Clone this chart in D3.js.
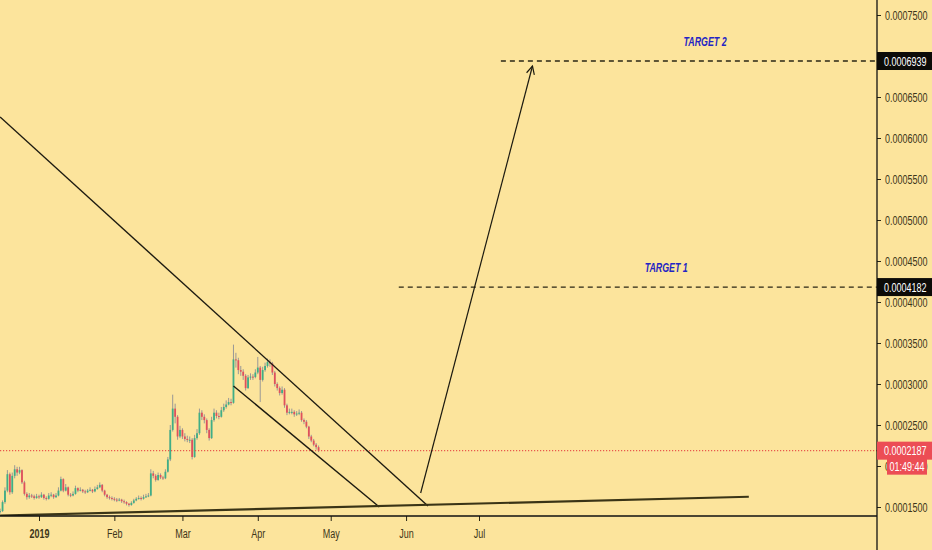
<!DOCTYPE html>
<html>
<head>
  <meta charset="utf-8">
  <title>chart</title>
  <script src="https://d3js.org/d3.v7.min.js"></script>
  <style>
    body { margin: 0; background: #fce49c; }
    svg text { font-family: "Liberation Sans", sans-serif; }
  </style>
</head>
<body>
<div id="chart"></div>
<script>
// prices in 1e-7 units, one candle per day starting 2018-12-16
var startDay = "2018-12-16";
var firstOpen = 1440;
var closes = [1450,1560,1700,1900,1680,1880,1960,1920,1950,1800,
  1660,1620,1640,1630,1610,1630,1620,1650,1610,1600,
  1640,1650,1620,1640,1700,1840,1700,1740,1650,1640,
  1660,1730,1700,1710,1690,1680,1700,1710,1690,1720,
  1740,1770,1700,1650,1620,1610,1600,1590,1580,1590,
  1570,1560,1540,1525,1550,1580,1600,1610,1600,1620,
  1630,1640,1910,1880,1830,1890,1860,1850,1930,2080,
  2440,2700,2600,2360,2440,2360,2330,2320,2320,2110,
  2340,2400,2650,2600,2560,2440,2340,2560,2650,2610,
  2600,2680,2720,2750,2780,2770,3300,3290,3170,3150,
  3100,2950,3080,3090,3085,3140,3200,3050,3170,3220,
  3270,3250,3140,3000,2950,2890,2930,2740,2650,2660,
  2660,2630,2640,2650,2560,2540,2480,2360,2310,2260,
  2230,2187];
var highs = [1480,1580,1740,1950,1920,1920,2010,1990,1990,1960,
  1820,1680,1670,1660,1650,1660,1650,1680,1660,1630,
  1670,1680,1660,1670,1740,1870,1850,1780,1750,1670,
  1690,1760,1740,1740,1720,1710,1720,1740,1720,1750,
  1770,1800,1780,1710,1660,1640,1630,1620,1610,1610,
  1600,1590,1570,1550,1570,1600,1620,1640,1630,1650,
  1660,1670,1960,1940,1900,1920,1910,1880,1960,2110,
  2500,2870,2760,2620,2490,2460,2400,2370,2360,2340,
  2380,2450,2700,2680,2630,2580,2460,2600,2700,2680,
  2650,2720,2760,2800,2830,2820,3480,3380,3320,3220,
  3180,3120,3110,3130,3120,3180,3330,3220,3210,3260,
  3310,3300,3270,3160,3020,2970,2970,2950,2760,2700,
  2700,2680,2670,2690,2670,2580,2560,2490,2380,2330,
  2280,2250];
var lows = [1420,1440,1540,1680,1650,1660,1850,1880,1900,1780,
  1640,1590,1600,1610,1590,1600,1600,1610,1590,1580,
  1590,1620,1600,1610,1630,1690,1680,1690,1630,1620,
  1630,1650,1680,1690,1670,1660,1670,1690,1670,1680,
  1710,1730,1680,1630,1600,1590,1580,1570,1560,1570,
  1550,1540,1520,1505,1515,1540,1570,1590,1580,1590,
  1610,1620,1630,1850,1810,1820,1840,1830,1840,1920,
  2060,2420,2520,2320,2340,2330,2300,2290,2280,2080,
  2100,2320,2380,2560,2520,2400,2310,2330,2540,2580,
  2570,2590,2660,2700,2740,2740,2760,3200,3120,3100,
  3050,2920,2940,3050,3050,3070,3120,2780,3030,3150,
  3200,3210,3110,2970,2920,2860,2870,2710,2620,2630,
  2630,2600,2610,2620,2540,2510,2460,2330,2290,2240,
  2200,2170];

var monthTicks = ["2019-01-01","2019-02-01","2019-03-01","2019-04-01","2019-05-01","2019-06-01","2019-07-01"];
var priceTicks = [0.00015,0.0002,0.00025,0.0003,0.00035,0.0004,0.00045,0.0005,0.00055,0.0006,0.00065,0.0007,0.00075];

var lastPrice = 0.0002187;
var countdown = "01:49:44";
var target1 = {label: "TARGET 1", price: 0.0004182, from: "2019-05-29", textAt: "2019-09-16"};
var target2 = {label: "TARGET 2", price: 0.0006939, from: "2019-07-10", textAt: "2019-10-02"};

// drawings: [date, price]
var resistanceLine = [["2018-12-16",0.0006256],["2019-06-10",0.0001512]];
var channelLine    = [["2019-03-22",0.0002976],["2019-05-21",0.0001500]];
var supportLine    = [["2018-12-16",0.0001396],["2019-10-20",0.0001625]];
var projectionArrow = [["2019-06-07",0.0001671],["2019-07-23",0.0006878]];

var W = 932, H = 550, axisX = 877, axisY = 516;
var parse = d3.timeParse("%Y-%m-%d");

var x = d3.scaleTime()
  .domain([parse("2019-01-01"), parse("2019-07-01")])
  .range([39, 479]);
var y = d3.scaleLinear()
  .domain([0.00015, 0.00075])
  .range([507, 15]);

var svg = d3.select("#chart").append("svg")
  .attr("width", W).attr("height", H)
  .style("display", "block");

svg.append("rect").attr("width", W).attr("height", H).attr("fill", "#fce49c");

svg.append("defs").append("marker")
  .attr("id", "arrow")
  .attr("markerUnits", "userSpaceOnUse")
  .attr("markerWidth", 12).attr("markerHeight", 12)
  .attr("refX", 9).attr("refY", 5)
  .attr("orient", "auto")
  .append("path")
  .attr("d", "M1,1 L9,5 L1,9")
  .attr("fill", "none").attr("stroke", "#1c1a10").attr("stroke-width", 1.2);

svg.append("defs").append("clipPath").attr("id", "plot")
  .append("rect").attr("width", axisX).attr("height", axisY);

var plot = svg.append("g").attr("clip-path", "url(#plot)");

// candles
var start = parse(startDay);
var candles = closes.map(function(c, i) {
  return {
    date: d3.timeDay.offset(start, i),
    open: (i == 0 ? firstOpen : closes[i-1]) * 1e-7,
    close: c * 1e-7,
    high: highs[i] * 1e-7,
    low: lows[i] * 1e-7
  };
});

plot.selectAll("line.wick").data(candles).enter().append("line")
  .attr("class", "wick")
  .attr("x1", d => x(d.date)).attr("x2", d => x(d.date))
  .attr("y1", d => y(d.high)).attr("y2", d => y(d.low))
  .attr("stroke", "#8d8f95").attr("stroke-width", 0.9);

plot.selectAll("rect.body").data(candles).enter().append("rect")
  .attr("class", "body")
  .attr("x", d => x(d.date) - 0.9)
  .attr("width", 1.8)
  .attr("y", d => y(Math.max(d.open, d.close)))
  .attr("height", d => Math.max(1, Math.abs(y(d.open) - y(d.close))))
  .attr("fill", d => d.close >= d.open ? "#3fae86" : "#e0505c");

// last price dotted line
plot.append("line")
  .attr("x1", 0).attr("x2", axisX)
  .attr("y1", y(lastPrice)).attr("y2", y(lastPrice))
  .attr("stroke", "#e8584d").attr("stroke-width", 1.3)
  .attr("stroke-dasharray", "1.2,1.8");

// target levels
[target1, target2].forEach(function(t) {
  plot.append("line")
    .attr("x1", x(parse(t.from))).attr("x2", axisX)
    .attr("y1", y(t.price)).attr("y2", y(t.price))
    .attr("stroke", "#2a2614").attr("stroke-width", 1.4)
    .attr("stroke-dasharray", "5,4");
  plot.append("text")
    .attr("class", "target")
    .attr("x", x(parse(t.textAt))).attr("y", y(t.price) - 15)
    .attr("text-anchor", "middle")
    .attr("font-size", 13).attr("font-style", "italic").attr("font-weight", "bold")
    .attr("fill", "#2424c4")
    .text(t.label);
});

var line = d3.line().x(d => x(parse(d[0]))).y(d => y(d[1]));

plot.append("path").datum(resistanceLine).attr("d", line)
  .attr("fill", "none").attr("stroke", "#1c1a10").attr("stroke-width", 1.4);
plot.append("path").datum(channelLine).attr("d", line)
  .attr("fill", "none").attr("stroke", "#1c1a10").attr("stroke-width", 1.4);
plot.append("path").datum(supportLine).attr("d", line)
  .attr("fill", "none").attr("stroke", "#3a3416").attr("stroke-width", 2.2);
plot.append("path").datum(projectionArrow).attr("d", line)
  .attr("fill", "none").attr("stroke", "#1c1a10").attr("stroke-width", 1.2)
  .attr("marker-end", "url(#arrow)");

// bottom axis
var xAxis = d3.axisBottom(x)
  .tickValues(monthTicks.map(parse))
  .tickSize(5).tickPadding(8)
  .tickFormat(d => d.getMonth() == 0 ? d3.timeFormat("%Y")(d) : d3.timeFormat("%b")(d));

var gx = svg.append("g").attr("transform", "translate(0," + axisY + ")").call(xAxis);
gx.select(".domain").remove();
gx.selectAll(".tick line").attr("stroke", "#2a2614");
gx.selectAll(".tick text")
  .attr("font-size", 12.5)
  .attr("fill", "#3d3519")
  .attr("font-weight", d => d.getMonth() == 0 ? "bold" : "normal")
  .style("font-family", "'Liberation Sans', sans-serif");

svg.append("line").attr("x1", 0).attr("x2", axisX).attr("y1", axisY).attr("y2", axisY)
  .attr("stroke", "#111").attr("stroke-width", 1.3);

// right axis
var yAxis = d3.axisRight(y)
  .tickValues(priceTicks)
  .tickSize(4).tickPadding(4)
  .tickFormat(d => d.toFixed(7));

var gy = svg.append("g").attr("transform", "translate(" + axisX + ",0)").call(yAxis);
gy.select(".domain").remove();
gy.selectAll(".tick line").attr("stroke", "#2a2614");
gy.selectAll(".tick text")
  .attr("font-size", 12.5)
  .attr("fill", "#3d3519")
  .style("font-family", "'Liberation Sans', sans-serif");

svg.append("line").attr("x1", axisX).attr("x2", axisX).attr("y1", 0).attr("y2", H)
  .attr("stroke", "#111").attr("stroke-width", 1.3);

// price labels on axis
function priceTag(price, bg) {
  var g = svg.append("g").attr("transform", "translate(" + axisX + "," + y(price) + ")");
  g.append("rect").attr("x", 0).attr("y", -9).attr("width", W - axisX).attr("height", 18).attr("fill", bg);
  g.append("text").attr("x", 7).attr("y", 4.5)
    .attr("font-size", 12.5).attr("fill", "#fff")
    .text(price.toFixed(7));
}
priceTag(target2.price, "#0c0b08");
priceTag(target1.price, "#0c0b08");
priceTag(lastPrice, "#ec4d55");

svg.append("rect")
  .attr("x", axisX + 10).attr("y", y(lastPrice) + 7)
  .attr("width", 40).attr("height", 17)
  .attr("fill", "#ec4d55");
svg.append("text")
  .attr("x", axisX + 30).attr("y", y(lastPrice) + 20)
  .attr("text-anchor", "middle")
  .attr("font-size", 12.5).attr("fill", "#fff")
  .text(countdown);

// the reference uses a narrow face: squeeze every label
svg.selectAll("text").each(function() {
  var w = this.getComputedTextLength();
  var k = d3.select(this).classed("target") ? 0.68 : 0.72;
  d3.select(this).attr("textLength", w * k).attr("lengthAdjust", "spacingAndGlyphs");
});
</script>
</body>
</html>
